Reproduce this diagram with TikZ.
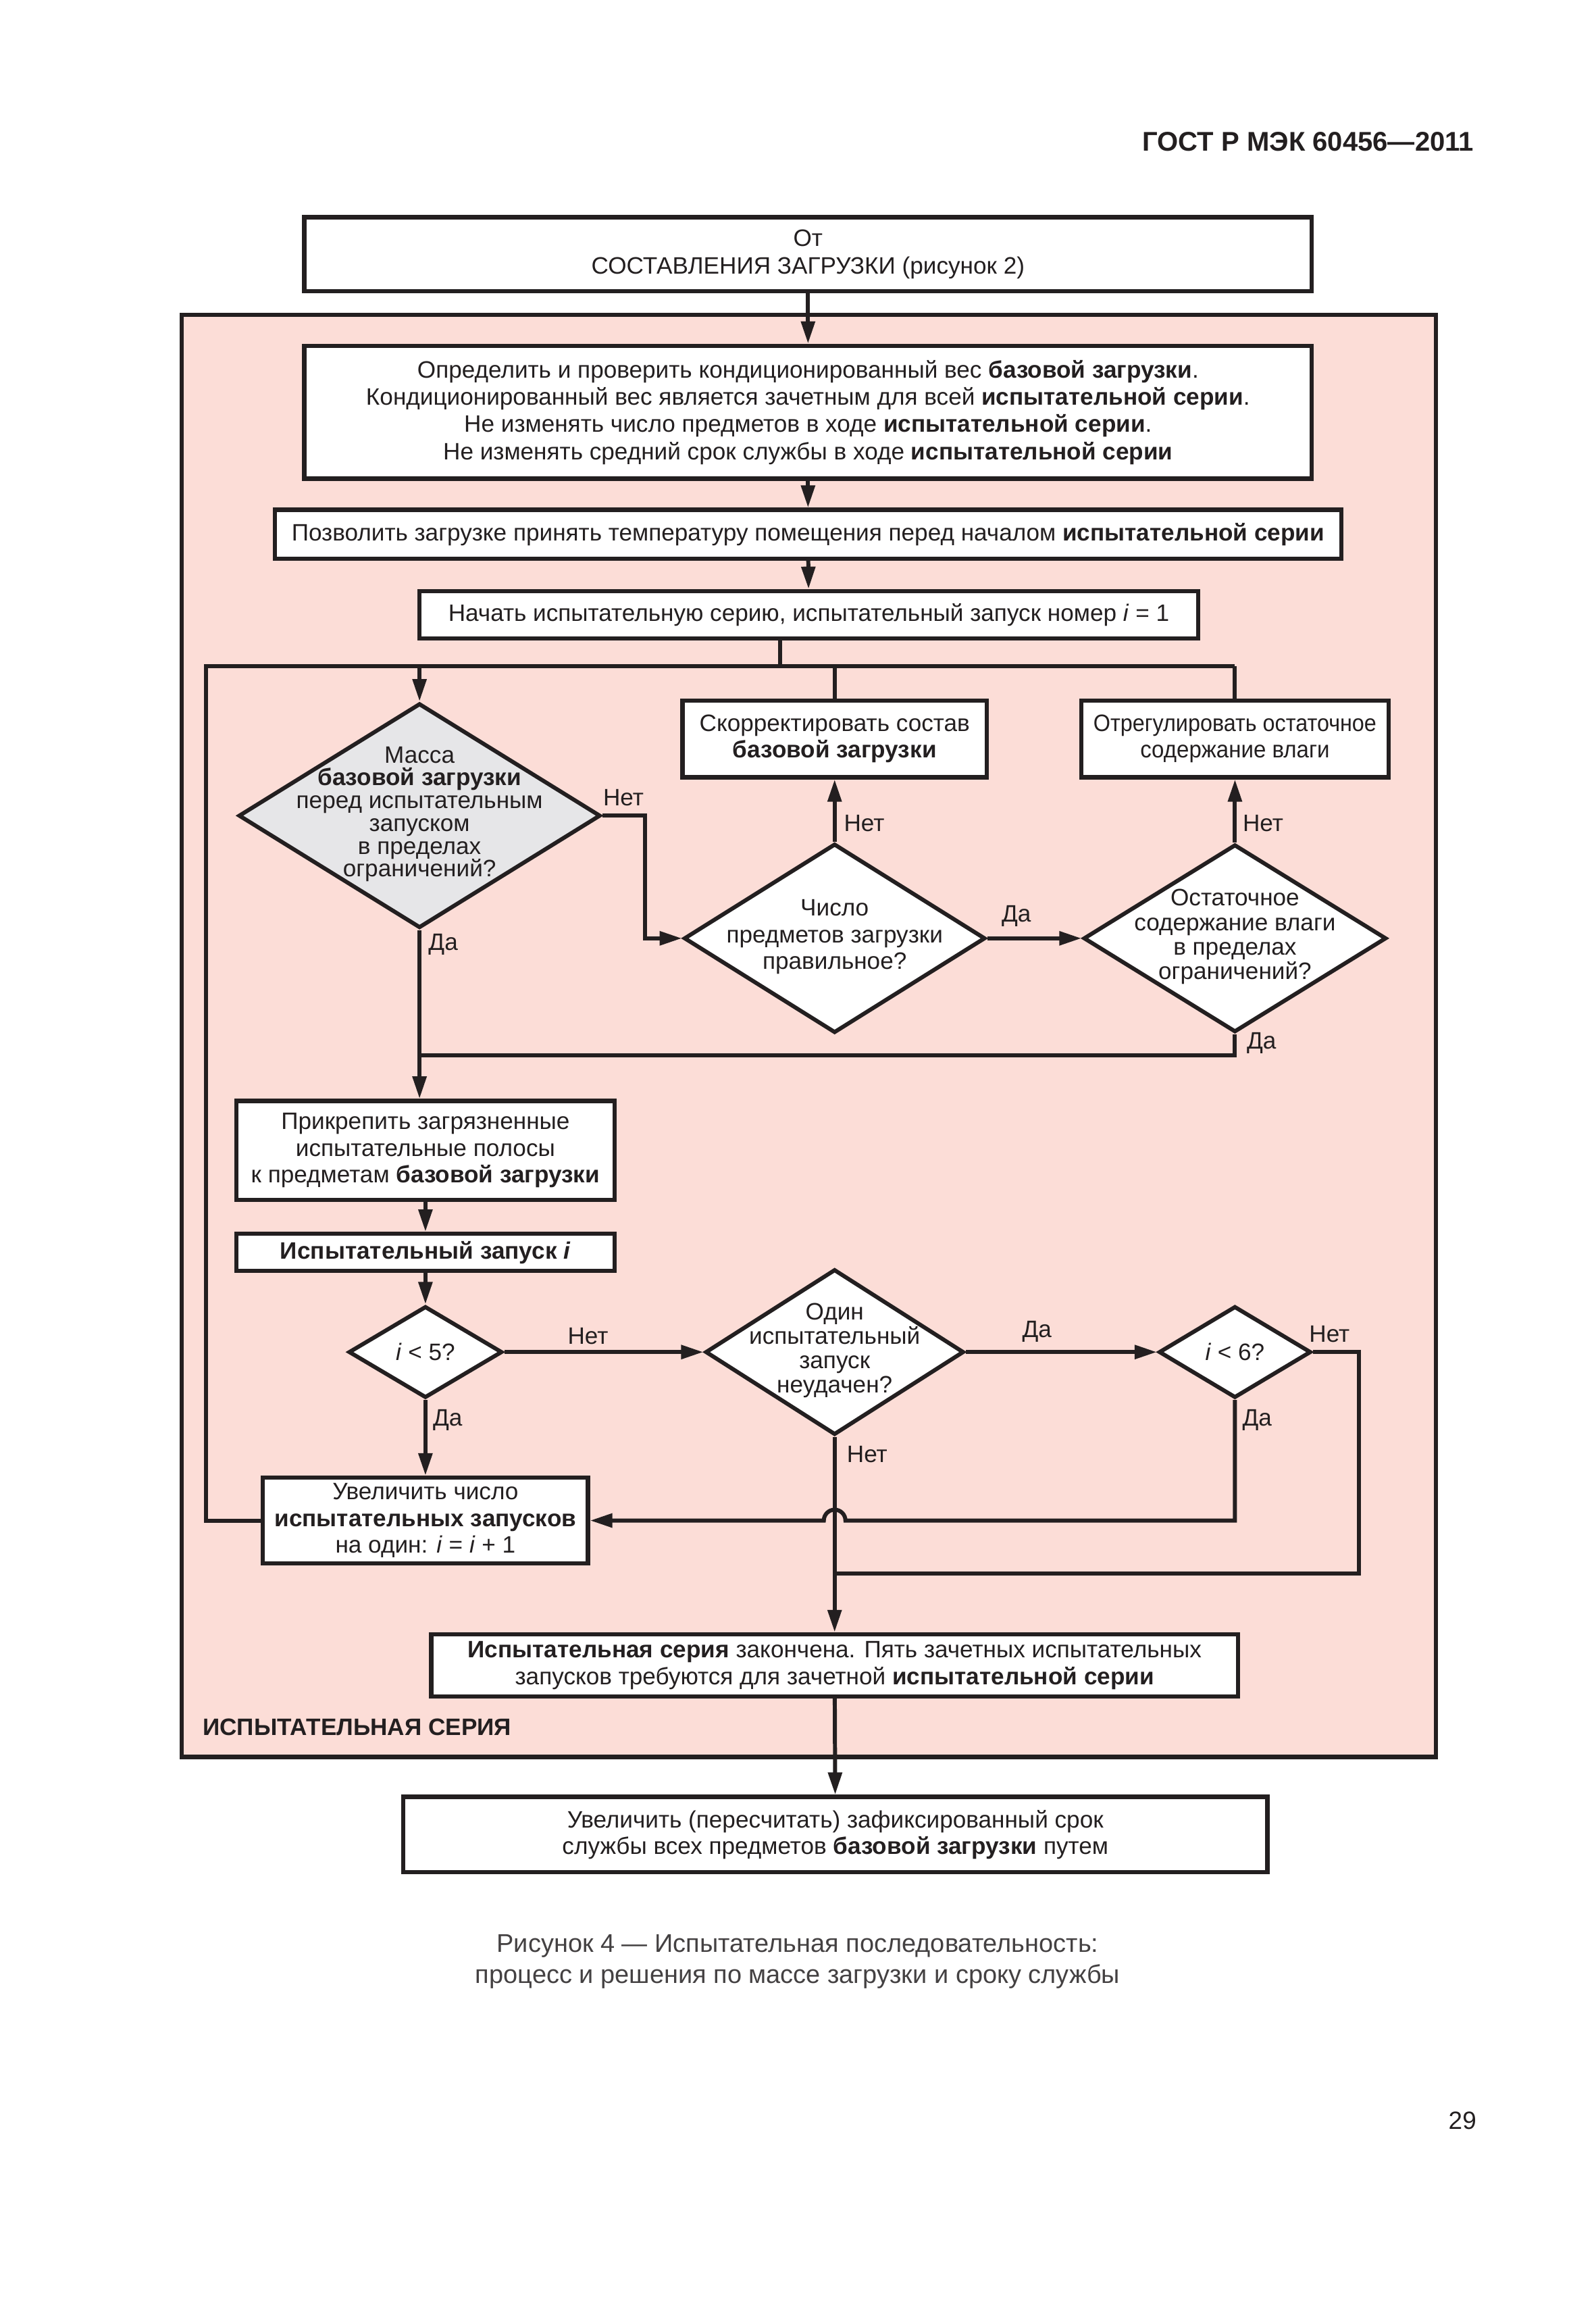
\documentclass[tikz,border=0pt]{standalone}
\usepackage{fontspec}
\usepackage{graphicx}
\setmainfont{Liberation Sans}
\usetikzlibrary{arrows.meta,shapes.geometric,calc}
\definecolor{pinkbg}{HTML}{FCDDD7}
\definecolor{graybg}{HTML}{E6E6E8}
\definecolor{ink}{HTML}{231F20}
\begin{document}
\begin{tikzpicture}[x=0.2187mm,y=-0.2187mm,
  line/.style={draw=ink,line width=1.7pt},
  arr/.style={line,-{Triangle[length=3.3mm,width=2mm]}},
  sz/.style 2 args={minimum width=#1*0.2187mm,minimum height=#2*0.2187mm},
  box/.style={draw=ink,line width=1.8pt,fill=white,inner sep=0pt,align=center,text=ink,font=\fontsize{10}{11.5}\selectfont},
  dia/.style={diamond,draw=ink,line width=1.7pt,fill=white,inner sep=0pt},
  dtext/.style={align=center,text=ink,inner sep=0pt},
  lbl/.style={text=ink,inner sep=0pt,font=\fontsize{10}{12}\selectfont}]
\useasboundingbox (0,0) rectangle (1080,1566);
% header
\node[anchor=east,text=ink,inner sep=0pt,font=\fontsize{11.4}{13}\selectfont\bfseries] (hdr) at (998,96) {ГОСТ Р МЭК 60456—2011};
% pink frame
\node[draw=ink,fill=pinkbg,line width=1.8pt,inner sep=0pt,sz={849}{976}] (frame) at (547.5,701) {};
\node[anchor=west,text=ink,inner sep=0pt,font=\fontsize{10}{12}\selectfont\bfseries] (framelbl) at (137,1169) {ИСПЫТАТЕЛЬНАЯ СЕРИЯ};
% boxes
\node[box,sz={682}{50},font=\fontsize{10}{11.8}\selectfont] (src) at (547,172) {От\\СОСТАВЛЕНИЯ ЗАГРУЗКИ (рисунок 2)};
\node[box,sz={682}{90}] (b1) at (547,279) {Определить и проверить кондиционированный вес \textbf{базовой загрузки}.\\Кондиционированный вес является зачетным для всей \textbf{испытательной серии}.\\Не изменять число предметов в ходе \textbf{испытательной серии}.\\Не изменять средний срок службы в ходе \textbf{испытательной серии}};
\node[box,sz={722}{33}] (b2) at (547,361.5) {Позволить загрузке принять температуру помещения перед началом \textbf{испытательной серии}};
\node[box,sz={527}{32}] (b3) at (547.5,416) {Начать испытательную серию, испытательный запуск номер \textit{i} = 1};
\coordinate (b3out) at (528,432);
\node[box,sz={206}{52},font=\fontsize{10}{11.2}\selectfont] (c1) at (565,500) {Скорректировать состав\\\textbf{базовой загрузки}};
\node[box,sz={208}{52},font=\fontsize{10}{11.2}\selectfont] (c2) at (836,500) {\scalebox{0.92}[1]{Отрегулировать остаточное}\\\scalebox{0.94}[1]{содержание влаги}};
% diamonds
\node[dia,fill=graybg,sz={245}{152}] (d1) at (284,552) {};
\node[dtext,font=\fontsize{10}{9.6}\selectfont] (t1) at (284,551) {Масса\\\textbf{базовой загрузки}\\перед испытательным\\запуском\\в пределах\\ограничений?};
\node[dia,sz={204}{128}] (d2) at (565,635) {};
\node[dtext,font=\fontsize{10}{11.2}\selectfont] (t2) at (565,634) {Число\\предметов загрузки\\правильное?};
\node[dia,sz={205}{127}] (d3) at (836,635) {};
\node[dtext,font=\fontsize{10}{10.3}\selectfont] (t3) at (836,634) {Остаточное\\содержание влаги\\в пределах\\ограничений?};
\node[box,sz={256}{67},font=\fontsize{10}{11.2}\selectfont] (att) at (288,778.5) {Прикрепить загрязненные\\испытательные полосы\\к предметам \textbf{базовой загрузки}};
\node[box,sz={256}{25}] (run) at (288,847.5) {\textbf{Испытательный запуск \textit{i}}};
\node[dia,sz={104}{62}] (d4) at (288,915) {};
\node[dtext,font=\fontsize{10}{12}\selectfont] (t4) at (288,915) {\textit{i} < 5?};
\node[dia,sz={175}{112}] (d5) at (565,915) {};
\node[dtext,font=\fontsize{10}{10.3}\selectfont] (t5) at (565,914) {Один\\испытательный\\запуск\\неудачен?};
\node[dia,sz={103}{62}] (d6) at (836,915) {};
\node[dtext,font=\fontsize{10}{12}\selectfont] (t6) at (836,915) {\textit{i} < 6?};
\node[box,sz={220}{58},font=\fontsize{10}{11.2}\selectfont] (inc) at (288,1029) {Увеличить число\\\textbf{испытательных запусков}\\на один: \textit{i} = \textit{i} + 1};
\node[box,sz={546}{42},font=\fontsize{10}{11.2}\selectfont] (done) at (565,1127) {\textbf{Испытательная серия} закончена. Пять зачетных испытательных\\запусков требуются для зачетной \textbf{испытательной серии}};
\node[box,sz={585}{51},font=\fontsize{10}{11.2}\selectfont] (fin) at (565.5,1241.5) {Увеличить (пересчитать) зафиксированный срок\\службы всех предметов \textbf{базовой загрузки} путем};
% connectors
\draw[arr] (src) -- (b1);
\draw[arr] (b1) -- (b2);
\draw[arr] (b2) -- (b3);
\coordinate (jt) at (284,451);
\draw[line] (b3out) |- (jt);
\draw[arr] (jt) -- (d1.north);
\draw[line] (inc.west) -- ++(-37,0) |- (c2.north |- jt);
\draw[line] (c1.north) -- (c1.north |- jt);
\draw[line] (c2.north) -- (c2.north |- jt);
\draw[arr] (d1.east) -- ++(29,0) |- (d2.west);
\draw[arr] (d1.south) -- (d1.south |- att.north);
\draw[arr] (d2.north) -- (c1.south);
\draw[arr] (d2.east) -- (d3.west);
\draw[arr] (d3.north) -- (c2.south);
\draw[line] (d3.south) |- (d1.south |- 0,714);
\draw[arr] (att) -- (run);
\draw[arr] (run) -- (d4.north);
\draw[arr] (d4.east) -- (d5.west);
\draw[arr] (d4.south) -- (inc.north);
\draw[arr] (d5.east) -- (d6.west);
\draw[arr] (d5.south) -- (done.north);
\coordinate (hopR) at ($(d5.south |- inc.east)+(1.6mm,0)$);
\draw[arr] (d6.south) |- (hopR) arc[start angle=0,end angle=180,radius=1.6mm] -- (inc.east);
\coordinate (jn) at (565,1065);
\draw[line] (d6.east) -- ++(31,0) |- (jn);
\draw[arr] (done) -- (fin);
% labels
\node[lbl] (l1) at (422,540) {Нет};
\node[lbl] (l2) at (300,639) {Да};
\node[lbl] (l3) at (585,557) {Нет};
\node[lbl] (l4) at (688,620) {Да};
\node[lbl] (l5) at (855,557) {Нет};
\node[lbl] (l6) at (854,706) {Да};
\node[lbl] (l7) at (398,904) {Нет};
\node[lbl] (l8) at (303,961) {Да};
\node[lbl] (l9) at (702,901) {Да};
\node[lbl] (l10) at (587,984) {Нет};
\node[lbl] (l11) at (900,903) {Нет};
\node[lbl] (l12) at (851,961) {Да};
% caption
\node[text=ink!85,inner sep=0pt,align=center,font=\fontsize{10.8}{13.1}\selectfont] (cap) at (540,1327.5) {Рисунок 4 — Испытательная последовательность:\\процесс и решения по массе загрузки и сроку службы};
\node[text=ink,inner sep=0pt,font=\fontsize{10.5}{12}\selectfont] (pg) at (990,1435) {29};
\end{tikzpicture}
\end{document}
